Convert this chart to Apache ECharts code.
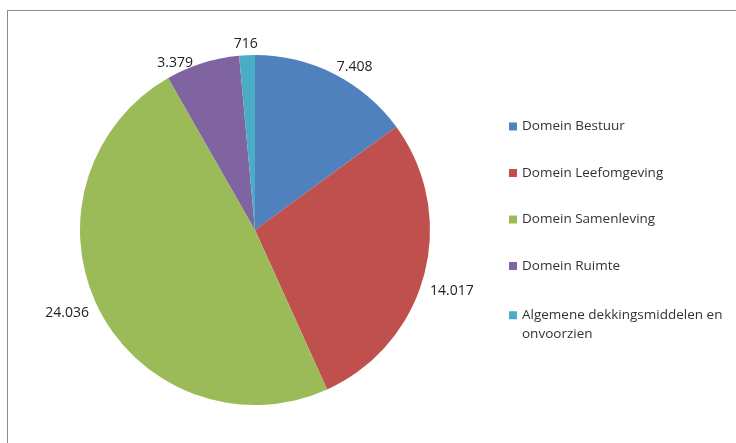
<!DOCTYPE html>
<html>
<head>
<meta charset="utf-8">
<script src="https://cdn.jsdelivr.net/npm/echarts@6/dist/echarts.min.js"></script>
<style>
html,body{margin:0;padding:0;background:#fff;}
#frame{position:absolute;left:7px;top:10px;width:800px;height:500px;border-left:1px solid #8a8a8a;border-top:1px solid #8a8a8a;}
#chart{position:absolute;left:0;top:0;width:736px;height:443px;}
</style>
</head>
<body>
<div id="frame"></div>
<div id="chart"></div>
<script>
const categories = ['Domein Bestuur', 'Domein Leefomgeving', 'Domein Samenleving', 'Domein Ruimte', 'Algemene dekkingsmiddelen en onvoorzien'];
const values = [7408, 14017, 24036, 3379, 716];
const colors = ['#4F81BD', '#C0504D', '#9BBB59', '#8064A2', '#4BACC6'];

function fmt(v) {
  return String(v).replace(/\B(?=(\d{3})+(?!\d))/g, '.');
}

const legendText = { fontSize: 13.5, color: '#333', fontFamily: 'Open Sans' };

const chart = echarts.init(document.getElementById('chart'));
chart.setOption({
  animation: false,
  color: colors,
  textStyle: { fontFamily: 'Open Sans' },
  legend: [{
    orient: 'vertical',
    left: 504,
    top: 113,
    icon: 'rect',
    itemWidth: 8,
    itemHeight: 8,
    itemGap: 29.5,
    selectedMode: false,
    data: categories.slice(0, 4),
    textStyle: Object.assign({ lineHeight: 17 }, legendText)
  }, {
    orient: 'vertical',
    left: 504,
    top: 282.5,
    icon: 'rect',
    itemWidth: 8,
    itemHeight: 8,
    selectedMode: false,
    data: categories.slice(4),
    formatter: function (name) {
      return ' \n' + name.replace(' onvoorzien', '\nonvoorzien');
    },
    textStyle: Object.assign({ lineHeight: 18.5 }, legendText)
  }],
  series: [{
    type: 'pie',
    center: [255, 230],
    radius: [0, 175],
    startAngle: 90,
    clockwise: true,
    avoidLabelOverlap: false,
    data: categories.map((c, i) => ({ name: c, value: values[i] })),
    itemStyle: { borderWidth: 0 },
    label: {
      show: true,
      position: 'outside',
      formatter: p => fmt(p.value),
      fontSize: 14,
      color: '#222',
      fontFamily: 'Open Sans'
    },
    labelLine: { show: false, length: 8, length2: 2 },
    labelLayout: function (p) {
      const shifts = [[-8, 0], [-9, 14], [4, 0], [0, 8], [18, -3]];
      const s = shifts[p.dataIndex];
      return { dx: s[0], dy: s[1] };
    },
    emphasis: { disabled: true }
  }]
});
</script>
</body>
</html>
